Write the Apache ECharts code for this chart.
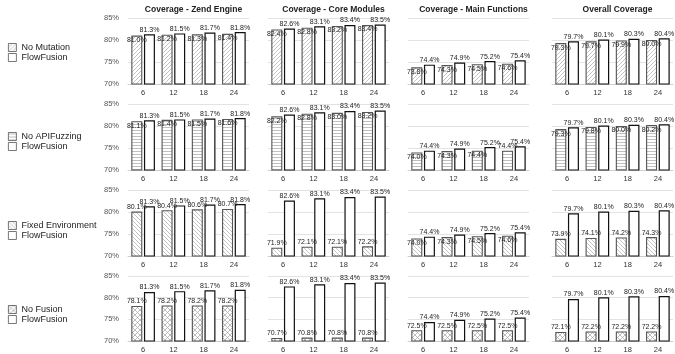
<!DOCTYPE html>
<html><head><meta charset="utf-8">
<script src="https://cdn.jsdelivr.net/npm/echarts@6/dist/echarts.min.js"></script>
<style>html,body{margin:0;padding:0;background:#fff}#c{width:675px;height:354px}</style>
</head><body><div id="c"></div>
<script>
// ---- data ----
const categories = ['6', '12', '18', '24'];
const panelTitles = ['Coverage - Zend Engine', 'Coverage - Core Modules', 'Coverage - Main Functions', 'Overall Coverage'];
const yTickLabels = ['70%', '75%', '80%', '85%'];
const ablationNames = ['No Mutation', 'No APIFuzzing', 'Fixed Environment', 'No Fusion'];

const flowFusionZend = [81.3, 81.5, 81.7, 81.8];
const flowFusionCore = [82.6, 83.1, 83.4, 83.5];
const flowFusionMain = [74.4, 74.9, 75.2, 75.4];
const flowFusionOverall = [79.7, 80.1, 80.3, 80.4];

const noMutationZend = [81.0, 81.2, 81.3, 81.4];
const noMutationCore = [82.4, 82.8, 83.2, 83.4];
const noMutationMain = [73.8, 74.3, 74.5, 74.6];
const noMutationOverall = [79.3, 79.7, 79.9, 80.0];

const noApiFuzzingZend = [81.1, 81.4, 81.5, 81.6];
const noApiFuzzingCore = [82.2, 82.8, 83.0, 83.2];
const noApiFuzzingMain = [74.0, 74.3, 74.4, 74.4];
const noApiFuzzingOverall = [79.3, 79.8, 80.0, 80.2];

const fixedEnvZend = [80.1, 80.4, 80.6, 80.7];
const fixedEnvCore = [71.9, 72.1, 72.1, 72.2];
const fixedEnvMain = [74.0, 74.3, 74.5, 74.6];
const fixedEnvOverall = [73.9, 74.1, 74.2, 74.3];

const noFusionZend = [78.1, 78.2, 78.2, 78.2];
const noFusionCore = [70.7, 70.8, 70.8, 70.8];
const noFusionMain = [72.5, 72.5, 72.5, 72.5];
const noFusionOverall = [72.1, 72.2, 72.2, 72.2];

const flowFusionRows = [flowFusionZend, flowFusionCore, flowFusionMain, flowFusionOverall];
const ablationRows = [
  [noMutationZend, noMutationCore, noMutationMain, noMutationOverall],
  [noApiFuzzingZend, noApiFuzzingCore, noApiFuzzingMain, noApiFuzzingOverall],
  [fixedEnvZend, fixedEnvCore, fixedEnvMain, fixedEnvOverall],
  [noFusionZend, noFusionCore, noFusionMain, noFusionOverall]
];

// ---- patterns ----
function makePattern(kind) {
  const s = kind === 'h' ? 3 : (kind === 'x' ? 5 : 4);
  const c = document.createElement('canvas');
  c.width = s; c.height = s;
  const g = c.getContext('2d');
  g.fillStyle = '#fff'; g.fillRect(0, 0, s, s);
  g.strokeStyle = kind === 'x' ? '#a8a8a8' : '#b0b0b0'; g.lineWidth = 0.75;
  const fwd = () => { g.beginPath(); g.moveTo(-1, s + 1); g.lineTo(s + 1, -1); g.moveTo(-1, 1); g.lineTo(1, -1); g.moveTo(s - 1, s + 1); g.lineTo(s + 1, s - 1); g.stroke(); };
  const back = () => { g.beginPath(); g.moveTo(-1, -1); g.lineTo(s + 1, s + 1); g.moveTo(s - 1, -1); g.lineTo(s + 1, 1); g.moveTo(-1, s - 1); g.lineTo(1, s + 1); g.stroke(); };
  if (kind === '/') fwd();
  else if (kind === '\\') back();
  else if (kind === 'x') { fwd(); back(); }
  else if (kind === 'h') { g.fillStyle = '#c0c0c0'; g.fillRect(0, 1, s, 1); }
  return { image: c, repeat: 'repeat' };
}
const patterns = [makePattern('/'), makePattern('h'), makePattern('\\'), makePattern('x')];

// ---- layout ----
const FONT = 'Liberation Sans, Arial, sans-serif';
const colLeft = [128, 268, 408, 552];
const colWidth = 121;
const rowTop = [18, 104, 190, 276];
const rowHeight = 66;
const legendTop = [38, 127, 216, 300];

const grids = [], xAxes = [], yAxes = [], series = [], titles = [], legends = [];
let gi = 0;
for (let r = 0; r < 4; r++) {
  legends.push({
    orient: 'vertical', left: 3, top: legendTop[r], itemWidth: 8, itemHeight: 8, itemGap: 1,
    icon: 'rect', selectedMode: false, data: [ablationNames[r], 'FlowFusion'],
    itemStyle: { borderWidth: 0.8, borderColor: '#555' },
    textStyle: { fontSize: 9, color: '#222', fontFamily: FONT }
  });
  for (let c = 0; c < 4; c++) {
    grids.push({ left: colLeft[c], top: rowTop[r], width: colWidth, height: rowHeight, containLabel: false });
    xAxes.push({
      type: 'category', gridIndex: gi, data: categories,
      axisTick: { show: false },
      axisLine: { lineStyle: { color: '#cfcfcf', width: 1 } },
      axisLabel: { fontSize: 7.5, color: '#333', margin: 5, fontFamily: FONT }
    });
    yAxes.push({
      type: 'value', gridIndex: gi, min: 70, max: 85, interval: 5,
      axisLine: { show: false }, axisTick: { show: false },
      splitLine: { lineStyle: { color: '#e3e3e3', width: 1 } },
      axisLabel: {
        show: c === 0, fontSize: 7.5, color: '#555', margin: 9, fontFamily: FONT,
        formatter: v => yTickLabels[Math.round((v - 70) / 5)]
      }
    });
    const flow = flowFusionRows[c];
    const abl = ablationRows[r][c];
    series.push({
      type: 'bar', name: ablationNames[r], xAxisIndex: gi, yAxisIndex: gi,
      barWidth: 11, barGap: '15%',
      itemStyle: { color: patterns[r], borderColor: '#555', borderWidth: 1.1 },
      label: { show: true, fontSize: 7, color: '#222', fontFamily: FONT, formatter: p => p.value.toFixed(1) + '%' },
      data: abl.map((v, i) => ({
        value: v,
        label: (flow[i] - v) < 1.0 ? { position: 'insideTop', distance: 1 } : { position: 'top', distance: 1 }
      })),
      animation: false
    });
    series.push({
      type: 'bar', name: 'FlowFusion', xAxisIndex: gi, yAxisIndex: gi,
      barWidth: 11, barGap: '15%',
      itemStyle: { color: '#fff', borderColor: '#111', borderWidth: 1.2 },
      label: { show: true, position: 'top', distance: 1, fontSize: 7, color: '#222', fontFamily: FONT, formatter: p => p.value.toFixed(1) + '%' },
      data: flow.slice(),
      animation: false
    });
    gi++;
  }
}
for (let c = 0; c < 4; c++) {
  titles.push({
    text: panelTitles[c], left: colLeft[c] + colWidth / 2, top: 0, textAlign: 'center',
    textStyle: { fontSize: 8.5, fontWeight: 'bold', color: '#222', fontFamily: FONT }
  });
}

const chart = echarts.init(document.getElementById('c'), null, { renderer: 'canvas' });
chart.setOption({
  animation: false,
  backgroundColor: '#fff',
  textStyle: { fontFamily: FONT },
  title: titles, legend: legends, grid: grids, xAxis: xAxes, yAxis: yAxes, series: series
});
</script></body></html>
